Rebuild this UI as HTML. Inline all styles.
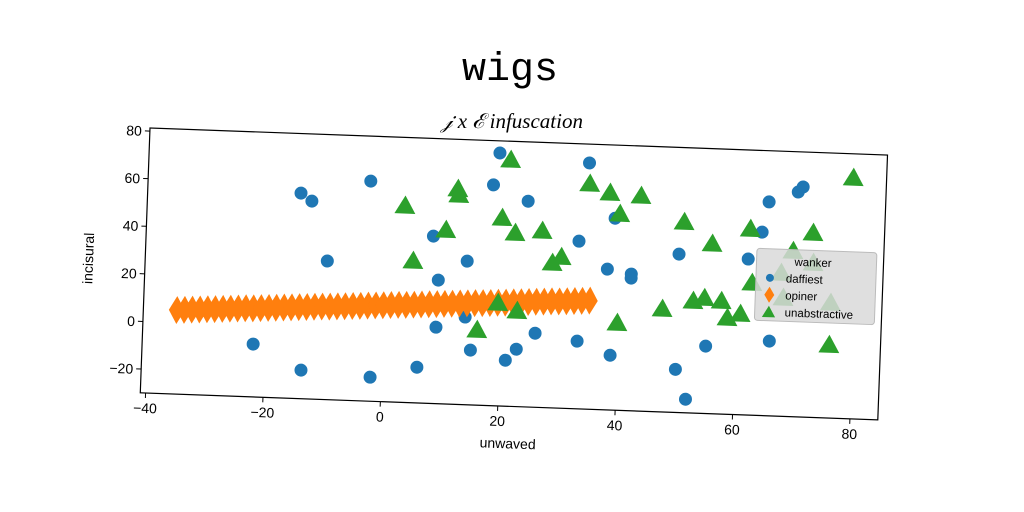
<!DOCTYPE html>
<html><head><meta charset="utf-8"><style>
html,body{margin:0;padding:0;background:#fff;}
svg{display:block;font-family:"Liberation Sans","DejaVu Sans",sans-serif;}
</style></head><body>
<svg id="chart" width="1024" height="512" viewBox="0 0 1024 512">
<text x="510" y="80" text-anchor="middle" font-family="Liberation Mono, monospace" font-size="40" fill="#000">wigs</text>
<text x="512" y="128" text-anchor="middle" font-family="Liberation Serif, serif" font-style="italic" font-size="21" fill="#000">𝒿 x ℰ infuscation</text>
<g id="plot" transform="translate(150,128) rotate(2.1)"></g>
</svg>
<script>
const xTicks = [-40, -20, 0, 20, 40, 60, 80];
const yTicks = [-20, 0, 20, 40, 60, 80];
const blueX = [-14.8,-12.9,-3.0,-9.9,8.0,9.1,13.9,17.9,18.8,9.0,13.9,15.0,21.0,22.8,-22.0,-13.7,-1.9,6.0,34.1,23.9,32.8,37.8,41.9,41.9,49.9,38.8,61.7,63.9,64.9,69.8,70.6,25.9,33.1,38.8,50.0,51.9,55.0,65.8];
const blueY = [56.3,53.1,62.4,28.2,40.3,21.9,30.3,62.7,76.2,2.1,6.8,-7.0,-10.7,-5.9,-7.8,-18.0,-19.9,-15.0,73.4,56.4,40.4,29.1,27.4,25.7,36.5,50.6,35.5,47.0,59.8,64.4,66.6,1.1,-1.6,-7.0,-11.9,-24.3,-1.7,1.4];
const orangeX = [-35.2,-33.9,-32.6,-31.3,-30.0,-28.7,-27.4,-26.1,-24.8,-23.5,-22.2,-20.9,-19.6,-18.3,-17.0,-15.7,-14.4,-13.1,-11.8,-10.5,-9.2,-7.9,-6.6,-5.3,-4.0,-2.7,-1.4,-0.1,1.2,2.5,3.8,5.1,6.4,7.7,9.0,10.3,11.6,12.9,14.2,15.5,16.8,18.1,19.4,20.7,22.0,23.3,24.6,25.9,27.2,28.5,29.8,31.1,32.4,33.7,35.0];
const orangeY = [5.3,5.5,5.7,5.9,6.1,6.3,6.5,6.7,6.9,7.1,7.2,7.4,7.6,7.8,8.0,8.2,8.4,8.6,8.8,9.0,9.1,9.3,9.5,9.7,9.9,10.1,10.3,10.5,10.7,10.9,11.0,11.2,11.4,11.6,11.8,12.0,12.2,12.4,12.6,12.8,12.9,13.1,13.3,13.5,13.7,13.9,14.1,14.3,14.5,14.7,14.8,15.0,15.2,15.4,15.6];
const greenX = [3.0,11.9,12.1,10.1,4.7,19.6,21.9,20.7,19.4,22.7,16.0,34.3,37.8,43.1,39.6,26.5,28.4,29.9,39.8,47.4,52.6,54.5,57.4,58.5,60.7,50.6,55.5,61.9,62.5,72.6,79.1,76.0,69.3,72.8,67.9,76.0,67.4];
const greenY = [52.9,60.8,58.3,43.4,29.9,49.3,43.2,73.8,13.6,10.5,1.9,65.0,61.5,60.7,52.8,44.5,31.2,33.8,7.0,13.6,17.4,18.8,17.8,10.8,12.7,50.4,41.7,48.5,25.9,47.8,71.5,1.0,39.9,35.2,20.1,18.7,30.5];

const NS = "http://www.w3.org/2000/svg";
const W = 738, H = 265, XMIN = -40.9, XMAX = 84.75, YMIN = -30.0, YMAX = 81.3;
const sx = v => (v - XMIN) / (XMAX - XMIN) * W;
const sy = v => (YMAX - v) / (YMAX - YMIN) * H;
const g = document.getElementById('plot');
function mk(tag, attrs, parent) {
  const e = document.createElementNS(NS, tag);
  for (const k in attrs) e.setAttribute(k, attrs[k]);
  (parent || g).appendChild(e);
  return e;
}
const frame = mk('rect', {x:0, y:0, width:W, height:H, fill:'#fff', stroke:'#000', 'stroke-width':1.2});



xTicks.forEach(v => {
  const t = mk('line', {x1:sx(v), x2:sx(v), y1:H, y2:H+5, stroke:'#000'});
  
  
  const l = mk('text', {x:sx(v), y:H+20, 'text-anchor':'middle', 'font-size':14, fill:'#000'});
  l.textContent = v < 0 ? '\u2212' + Math.abs(v) : String(v);
  
  
});
yTicks.forEach(v => {
  const t = mk('line', {x1:-5, x2:0, y1:sy(v), y2:sy(v), stroke:'#000'});
  
  
  const l = mk('text', {x:-8, y:sy(v)+5, 'text-anchor':'end', 'font-size':14, fill:'#000'});
  l.textContent = v < 0 ? '\u2212' + Math.abs(v) : String(v);
  
  
});
const xl = mk('text', {x:W/2, y:H+42, 'text-anchor':'middle', 'font-size':14, fill:'#000'});
xl.textContent = 'unwaved';


const yl = mk('text', {x:0, y:0, 'text-anchor':'middle', 'font-size':14, fill:'#000', transform:`translate(-52,${H/2}) rotate(-90)`});
yl.textContent = 'incisural';



function tri(cx, cy, s) { return `${cx},${cy-s} ${cx-s*1.1},${cy+s*0.9} ${cx+s*1.1},${cy+s*0.9}`; }
function dia(cx, cy, w, h) { return `${cx},${cy-h} ${cx+w},${cy} ${cx},${cy+h} ${cx-w},${cy}`; }

blueX.forEach((v, i) => {
  const c = mk('circle', {cx:sx(v), cy:sy(blueY[i]), r:6.5, fill:'#1f77b4'});
  
  
});
orangeX.forEach((v, i) => {
  const p = mk('polygon', {points:dia(sx(v), sy(orangeY[i]), 8, 14), fill:'#ff7f0e'});
  
  
});
greenX.forEach((v, i) => {
  const p = mk('polygon', {points:tri(sx(v), sy(greenY[i]), 9.5), fill:'#2ca02c'});
  
  
});

const lg = mk('g', {transform:'translate(611,98)'});


mk('rect', {x:0, y:0, width:120, height:72, rx:3, fill:'#d9d9d9', 'fill-opacity':0.85, stroke:'#bbb'}, lg);
const entries = [['wanker', null], ['daffiest', 'c'], ['opiner', 'd'], ['unabstractive', 't']];
entries.forEach((e, i) => {
  const y = 12 + i * 17;
  if (e[1] === 'c') mk('circle', {cx:14, cy:y, r:4, fill:'#1f77b4'}, lg);
  if (e[1] === 'd') mk('polygon', {points:dia(14, y, 5, 8), fill:'#ff7f0e'}, lg);
  if (e[1] === 't') mk('polygon', {points:tri(14, y, 6), fill:'#2ca02c'}, lg);
  const t = mk('text', {x: e[1] ? 30 : 38, y:y+4, 'font-size':11.5, fill:'#000'}, lg);
  t.textContent = e[0];
  
  
});
</script>
</body></html>
